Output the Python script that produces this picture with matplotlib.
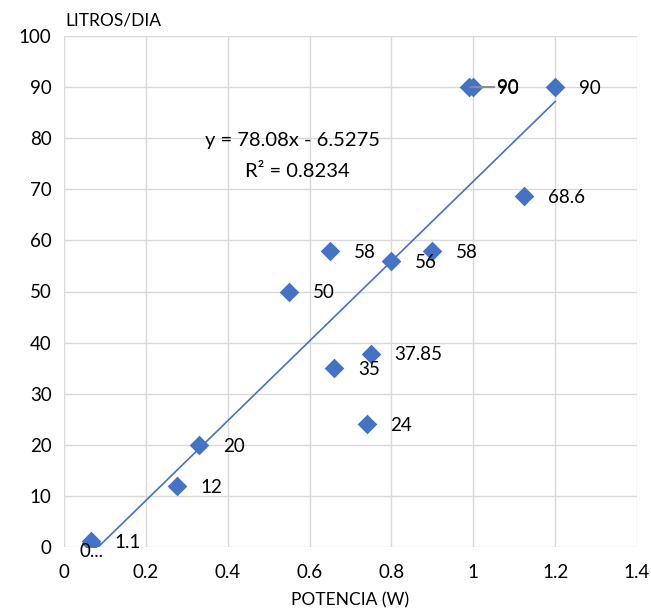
import matplotlib
matplotlib.use('Agg')
import matplotlib.pyplot as plt
import numpy as np

# potencia (W) vs litros/dia
potencia = [0.066, 0.066, 0.275, 0.33, 0.55, 0.65, 0.66, 0.74, 0.75, 0.80, 0.90, 0.99, 1.0, 1.125, 1.2]
litros = [0.8, 1.1, 12, 20, 50, 58, 35, 24, 37.85, 56, 58, 90, 90, 68.6, 90]
etiquetas = ['0...', '1.1', '12', '20', '50', '58', '35', '24', '37.85', '56', '58', '90', '90', '68.6', '90']

# trendline from the fitted equation
pendiente = 78.08
intercepto = -6.5275
r2 = 0.8234

plt.rcParams['font.family'] = ['Lato', 'DejaVu Sans']
azul = '#4472C4'

fig = plt.figure(figsize=(6.51, 6.10), dpi=100)
ax = fig.add_axes([64 / 651, 63 / 610, 573 / 651, 511 / 610])

ax.scatter(potencia, litros, marker='D', s=100, color=azul, zorder=3, linewidths=0)

xs = np.array([min(potencia), max(potencia)])
ax.plot(xs, pendiente * xs + intercepto, color=azul, lw=1.2, zorder=2)

# data labels, right of each point
for i, (x, y, t) in enumerate(zip(potencia, litros, etiquetas)):
    if t == '0...':
        ax.annotate(t, (x, y), xytext=(-8, -6), textcoords='offset points',
                    fontsize=13.5, va='center', ha='left', zorder=4)
    elif i == 11:
        ax.annotate(t, (x, y), xytext=(20, 0), textcoords='offset points',
                    fontsize=13.5, va='center', ha='left', zorder=4,
                    arrowprops=dict(arrowstyle='-', color='#8c8c8c', lw=1.5,
                                    shrinkA=0, shrinkB=1))
    else:
        ax.annotate(t, (x, y), xytext=(17, -1), textcoords='offset points',
                    fontsize=13.5, va='center', ha='left', zorder=4)

ax.text(0.344, 79.6, 'y = 78.08x - 6.5275', fontsize=14.5, va='center', ha='left')
ax.text(0.442, 73.4, 'R² = ' + str(r2), fontsize=14.5, va='center', ha='left')

ax.set_xlim(0, 1.4)
ax.set_ylim(0, 100)
ax.set_xticks(np.arange(0, 1.41, 0.2))
ax.set_xticklabels(['0', '0.2', '0.4', '0.6', '0.8', '1', '1.2', '1.4'])
ax.set_yticks(range(0, 101, 10))
ax.grid(color='#D9D9D9', lw=1)
ax.set_axisbelow(True)
for s in ax.spines.values():
    s.set_visible(False)
ax.tick_params(length=0, labelsize=13.5, pad=12)
ax.tick_params(axis='y', pad=9)

fig.text(65 / 651, 1 - 20 / 610, 'LITROS/DIA', fontsize=12.5, va='center', ha='left')
fig.text(350 / 651, 1 - 600 / 610, 'POTENCIA (W)', fontsize=12.5, va='center', ha='center')

plt.savefig('out.png', dpi=100)
